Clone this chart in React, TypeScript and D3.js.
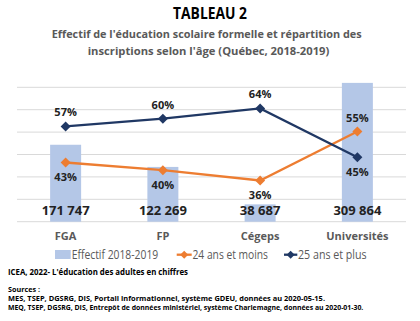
import React from "react";
import * as d3 from "d3";

const categories = ["FGA", "FP", "Cégeps", "Universités"];
const effectif = [171747, 122269, 38687, 309864];
const moins24 = [43, 40, 36, 55];
const plus25 = [57, 60, 64, 45];
const gridTicks = [0, 50000, 100000, 150000, 200000, 250000, 300000];

const W = 420;
const H = 321;
const left = 17;
const right = 406;
const baseY = 221.7;
const topY = 87.3;

const ORANGE = "#ed7d31";
const NAVY = "#203864";
const BAR = "#b4c7e7";
const GREY = "#595959";
const FONT = "'Open Sans', 'Noto Sans', sans-serif";

function fmt(n: number) {
  return d3.format(",")(n).replace(/,/g, " ");
}

function Diamond({ x, y, r, fill }: { x: number; y: number; r: number; fill: string }) {
  return <path d={`M${x},${y - r}L${x + r},${y}L${x},${y + r}L${x - r},${y}Z`} fill={fill} />;
}

export default function App() {
  const x = d3.scaleBand<string>().domain(categories).range([left, right]).paddingInner(0).paddingOuter(0);
  const yBar = d3.scaleLinear().domain([0, 300000]).range([baseY, topY]);
  const yPct = d3.scaleLinear().domain([20, 72.2]).range([baseY, topY]);
  const bw = 31;
  const cx = (c: string) => (x(c) as number) + x.bandwidth() / 2;

  const line = d3
    .line<number>()
    .x((_, i) => cx(categories[i]))
    .y((d) => yPct(d));

  return (
    <svg width={W} height={H} style={{ position: "absolute", left: 0, top: 0, background: "#fff" }} fontFamily={FONT}>
      <rect width={W} height={H} fill="#fff" />
      <text x={210} y={19.3} textAnchor="middle" fontSize={16.5} fontWeight={700} fill="#000" textLength={74} lengthAdjust="spacingAndGlyphs">
        TABLEAU 2
      </text>
      <text x={206.7} y={37.7} textAnchor="middle" fontSize={11.2} fontWeight={700} fill={GREY} textLength={310} lengthAdjust="spacingAndGlyphs">
        Effectif de l'éducation scolaire formelle et répartition des
      </text>
      <text x={208.5} y={54.5} textAnchor="middle" fontSize={11.2} fontWeight={700} fill={GREY} textLength={241.6} lengthAdjust="spacingAndGlyphs">
        inscriptions selon l'âge (Québec, 2018-2019)
      </text>

      {gridTicks.map((t) => (
        <line key={t} x1={left} x2={right} y1={yBar(t)} y2={yBar(t)} stroke="#d9d9d9" strokeWidth={1} />
      ))}

      {categories.map((c, i) => (
        <rect key={c} x={cx(c) - bw / 2} width={bw} y={yBar(effectif[i])} height={baseY - yBar(effectif[i])} fill={BAR} />
      ))}

      <path d={line(moins24) || ""} fill="none" stroke={ORANGE} strokeWidth={2.3} />
      <path d={line(plus25) || ""} fill="none" stroke={NAVY} strokeWidth={2.3} />
      {categories.map((c, i) => (
        <g key={c}>
          <Diamond x={cx(c)} y={yPct(moins24[i])} r={5} fill={ORANGE} />
          <Diamond x={cx(c)} y={yPct(plus25[i])} r={5} fill={NAVY} />
        </g>
      ))}

      {categories.map((c, i) => {
        const oAbove = moins24[i] > plus25[i];
        return (
          <g key={c} fontWeight={700} fontSize={11} fill="#222" textAnchor="middle">
            <text x={cx(c)} y={yPct(moins24[i]) + (oAbove ? -10 : 18.5)}>{moins24[i]}%</text>
            <text x={cx(c)} y={yPct(plus25[i]) + (oAbove ? 18.5 : -10)}>{plus25[i]}%</text>
            <text x={cx(c)} y={215} fontSize={13}>{fmt(effectif[i])}</text>
            <text x={cx(c)} y={240} fontSize={11} fill={GREY}>{c}</text>
          </g>
        );
      })}

      <g fontSize={12} fill={GREY}>
        <rect x={55} y={250} width={15.7} height={9} fill={BAR} />
        <text x={71.7} y={259} textLength={86.6} lengthAdjust="spacingAndGlyphs">Effectif 2018-2019</text>
        <line x1={176.7} x2={191.7} y1={254.7} y2={254.7} stroke={ORANGE} strokeWidth={2.3} />
        <Diamond x={184.2} y={254.7} r={4} fill={ORANGE} />
        <text x={192.5} y={259} textLength={75.5} lengthAdjust="spacingAndGlyphs">24 ans et moins</text>
        <line x1={284} x2={297.3} y1={254.7} y2={254.7} stroke={NAVY} strokeWidth={2.3} />
        <Diamond x={290.6} y={254.7} r={4} fill={NAVY} />
        <text x={298} y={259} textLength={68.7} lengthAdjust="spacingAndGlyphs">25 ans et plus</text>
      </g>

      <g fontWeight={700} fill="#000">
        <text x={8} y={275} fontSize={9.5} textLength={180} lengthAdjust="spacingAndGlyphs">ICEA, 2022- L'éducation des adultes en chiffres</text>
        <text x={8} y={292} fontSize={7.5} textLength={32} lengthAdjust="spacingAndGlyphs">Sources :</text>
        <text x={8} y={301} fontSize={7.5} textLength={317} lengthAdjust="spacingAndGlyphs">MES, TSEP, DGSRG, DIS, Portail informationnel, système GDEU, données au 2020-05-15.</text>
        <text x={8} y={310} fontSize={7.5} textLength={355.3} lengthAdjust="spacingAndGlyphs">MEQ, TSEP, DGSRG, DIS, Entrepôt de données ministériel, système Charlemagne, données au 2020-01-30.</text>
      </g>
    </svg>
  );
}
